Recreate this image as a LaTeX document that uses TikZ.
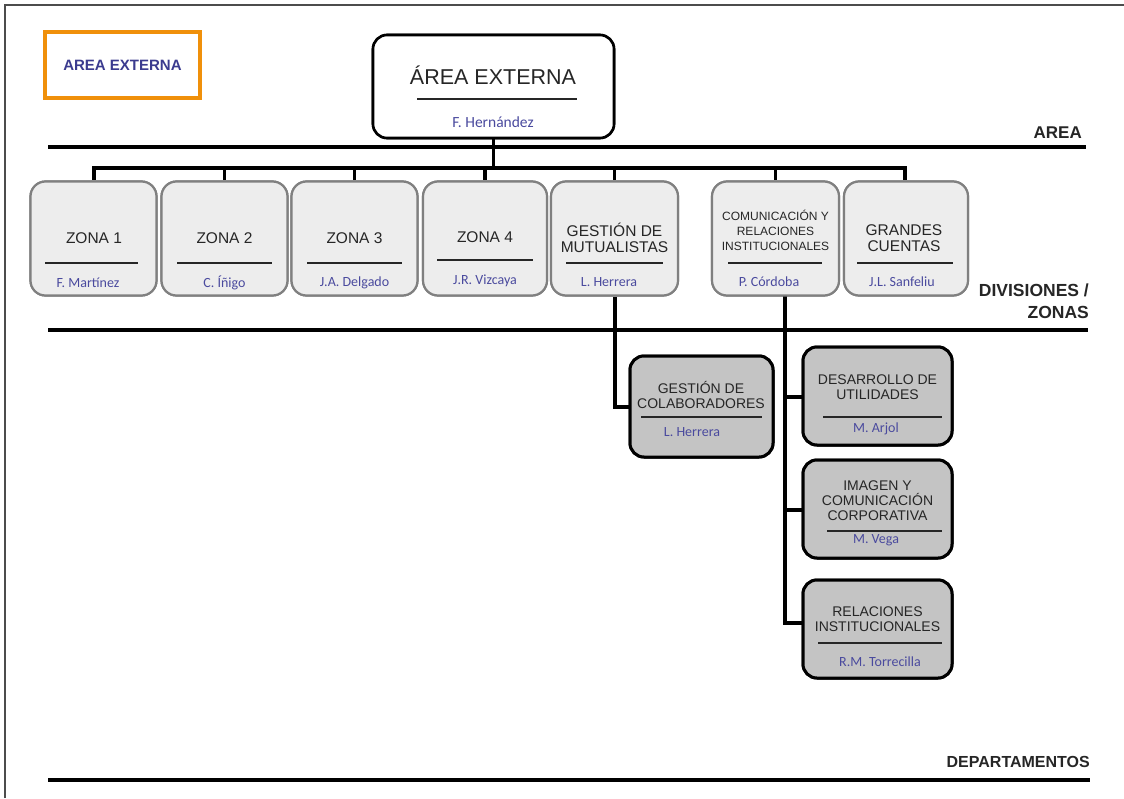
\documentclass[tikz,border=0pt]{standalone}
\usepackage{fontspec}
\setmainfont{Liberation Sans}
\newfontfamily\namefont{Carlito}
\definecolor{nameblue}{HTML}{4A4A9E}
\definecolor{legendblue}{HTML}{3B3B8F}
\definecolor{legendorange}{HTML}{F0900A}
\definecolor{zborder}{HTML}{808080}
\definecolor{zfill}{HTML}{EDEDED}
\definecolor{dfill}{HTML}{C4C4C4}
\begin{document}
\begin{tikzpicture}[x=1pt,y=-1pt,
  topbox/.style={draw=black, line width=2.6pt, fill=white, rounded corners=14pt, inner sep=0pt},
  zbox/.style={draw=zborder, line width=2.2pt, fill=zfill, rounded corners=15pt, inner sep=0pt, minimum width=126pt, minimum height=114pt},
  dbox/.style={draw=black, line width=3pt, fill=dfill, rounded corners=14pt, inner sep=0pt},
  ztitle/.style={font=\fontsize{15.5}{16.5}\selectfont, align=center, inner sep=0pt, text=black!85},
  stitle/.style={font=\fontsize{12}{15}\selectfont, align=center, inner sep=0pt, text=black!85},
  dtitle/.style={font=\fontsize{14}{15}\selectfont, align=center, inner sep=0pt, text=black!85},
  pname/.style={font=\namefont\fontsize{14}{15}\selectfont, text=nameblue, inner sep=0pt},
  sep/.style={line width=1.4pt, black!85},
  conn/.style={line width=3.8pt, black},
  level/.style={line width=4.5pt, black},
  lvllabel/.style={font=\bfseries\fontsize{17}{21}\selectfont, align=right, inner sep=0pt, text=black!85}
]
\useasboundingbox (0,0) rectangle (1124,798);
\fill[white] (0,0) rectangle (1124,798);
% page frame (left and top)
\draw[line width=1.5pt, black!70] (5,798) -- (5,5) -- (1124,5);

% legend
\node[draw=legendorange, line width=4.5pt, fill=white, minimum width=155pt, minimum height=66pt, inner sep=0pt,
      font=\bfseries\fontsize{15}{17}\selectfont, text=legendblue] (legend) at (122.5,65) {AREA EXTERNA};

% level lines and labels
\coordinate (areaL) at (48,147); \coordinate (areaR) at (1086,147);
\draw[level] (areaL) -- (areaR);
\node[lvllabel, anchor=south east] (areaLbl) at (1082,139) {AREA};
\coordinate (divL) at (48,330); \coordinate (divR) at (1088,330);
\draw[level] (divL) -- (divR);
\node[lvllabel, anchor=south east, font=\bfseries\fontsize{17.5}{22}\selectfont] (divLbl) at (1089,319) {DIVISIONES /\\ZONAS};
\coordinate (depL) at (48,780); \coordinate (depR) at (1090,780);
\draw[level] (depL) -- (depR);
\node[lvllabel, anchor=south east, font=\bfseries\fontsize{16}{20}\selectfont] (depLbl) at (1090,768) {DEPARTAMENTOS};

% boxes (positions)
\node[topbox, minimum width=241pt, minimum height=103pt] (top) at (493.5,86.5) {};
\coordinate (bus) at (493.5,168);
\coordinate (busL) at (94,168);
\coordinate (busR) at (905,168);

\node[zbox] (z1) at (93.5,238.5) {};
\node[zbox] (z2) at (224.5,238.5) {};
\node[zbox] (z3) at (354.5,238.5) {};
\node[zbox, minimum width=124pt] (z4) at (485,238.5) {};
\node[zbox, minimum width=127pt] (z5) at (614.5,238.5) {};
\node[zbox, minimum width=127pt] (z6) at (775.5,238.5) {};
\node[zbox, minimum width=124pt] (z7) at (906,238.5) {};

\node[dbox, minimum width=143pt, minimum height=101pt] (d1) at (701.5,406.5) {};
\node[dbox, minimum width=149pt, minimum height=98pt] (d2) at (877.5,396) {};
\node[dbox, minimum width=149pt, minimum height=98pt] (d3) at (877.5,509) {};
\node[dbox, minimum width=149pt, minimum height=98pt] (d4) at (877.5,629) {};

% connectors
\draw[conn] (top.south) -- (bus);
\draw[conn, line cap=rect] (busL) -- (busR);
\draw[conn] (busL) -- (z1.north -| busL);
\draw[conn] (z2.north |- bus) -- (z2.north);
\draw[conn] (z3.north |- bus) -- (z3.north);
\draw[conn] (z4.north |- bus) -- (z4.north);
\draw[conn] (z5.north |- bus) -- (z5.north);
\draw[conn] (z6.north |- bus) -- (z6.north);
\draw[conn] (busR) -- (z7.north -| busR);
\coordinate (k1) at (615,407);
\draw[conn, line join=miter] (z5.south -| k1) -- (k1) -- (d1.west |- k1);
\coordinate (spine) at (785,296);
\coordinate (spineEnd) at (785,623);
\draw[conn, line join=miter] (spine) -- (spineEnd) -- (d4.west |- spineEnd);
\draw[conn] (785,397) -- (d2.west |- 0,397);
\draw[conn] (785,510) -- (d3.west |- 0,510);

% redraw boxes on top of connector ends
\node[topbox, minimum width=241pt, minimum height=103pt] at (top) {};
\node[zbox] at (z1) {}; \node[zbox] at (z2) {}; \node[zbox] at (z3) {};
\node[zbox, minimum width=124pt] at (z4) {};
\node[zbox, minimum width=127pt] at (z5) {};
\node[zbox, minimum width=127pt] at (z6) {};
\node[zbox, minimum width=124pt] at (z7) {};
\node[dbox, minimum width=143pt, minimum height=101pt] at (d1) {};
\node[dbox, minimum width=149pt, minimum height=98pt] at (d2) {};
\node[dbox, minimum width=149pt, minimum height=98pt] at (d3) {};
\node[dbox, minimum width=149pt, minimum height=98pt] at (d4) {};

% top box content
\node[font=\fontsize{21.5}{26}\selectfont, inner sep=0pt, text=black!85] (topT) at (493,75) {ÁREA EXTERNA};
\draw[sep] (417,99) -- (577,99);
\node[pname, font=\namefont\fontsize{15.5}{17}\selectfont] (topP) at (493,122) {F. Hernández};

% zone contents
\node[ztitle] (z1t) at (94,238) {ZONA 1};
\draw[sep] (45,263) -- (138,263);
\node[pname] (z1p) at (88,283) {F. Martínez};

\node[ztitle] (z2t) at (224.5,238) {ZONA 2};
\draw[sep] (177,263) -- (272,263);
\node[pname] (z2p) at (224.5,283) {C. Íñigo};

\node[ztitle] (z3t) at (354.5,238) {ZONA 3};
\draw[sep] (307,263) -- (402,263);
\node[pname] (z3p) at (354.5,283) {J.A. Delgado};

\node[ztitle] (z4t) at (485,237) {ZONA 4};
\draw[sep] (437,260) -- (533,260);
\node[pname] (z4p) at (485,281) {J.R. Vizcaya};

\node[ztitle] (z5t) at (614.5,238) {GESTIÓN DE\\MUTUALISTAS};
\draw[sep] (566,263) -- (663,263);
\node[pname] (z5p) at (609,282) {L. Herrera};

\node[stitle] (z6t) at (775.5,230) {COMUNICACIÓN Y\\RELACIONES\\INSTITUCIONALES};
\draw[sep] (728,263) -- (822,263);
\node[pname] (z6p) at (769,282) {P. Córdoba};

\node[ztitle] (z7t) at (904,238) {GRANDES\\CUENTAS};
\draw[sep] (857,263) -- (953,263);
\node[pname] (z7p) at (902,282) {J.L. Sanfeliu};

% department contents
\node[dtitle] (d1t) at (701,395) {GESTIÓN DE\\COLABORADORES};
\draw[sep] (641,417) -- (762,417);
\node[pname] (d1p) at (692,432) {L. Herrera};

\node[dtitle] (d2t) at (877.5,387) {DESARROLLO DE\\UTILIDADES};
\draw[sep] (823,417) -- (942,417);
\node[pname] (d2p) at (876,429) {M. Arjol};

\node[dtitle] (d3t) at (877.5,501) {IMAGEN Y\\COMUNICACIÓN\\CORPORATIVA};
\draw[sep] (827,531) -- (942,531);
\node[pname] (d3p) at (876,540) {M. Vega};

\node[dtitle] (d4t) at (877.5,619) {RELACIONES\\INSTITUCIONALES};
\draw[sep] (818,643) -- (942,643);
\node[pname] (d4p) at (880,662) {R.M. Torrecilla};
\end{tikzpicture}
\end{document}
